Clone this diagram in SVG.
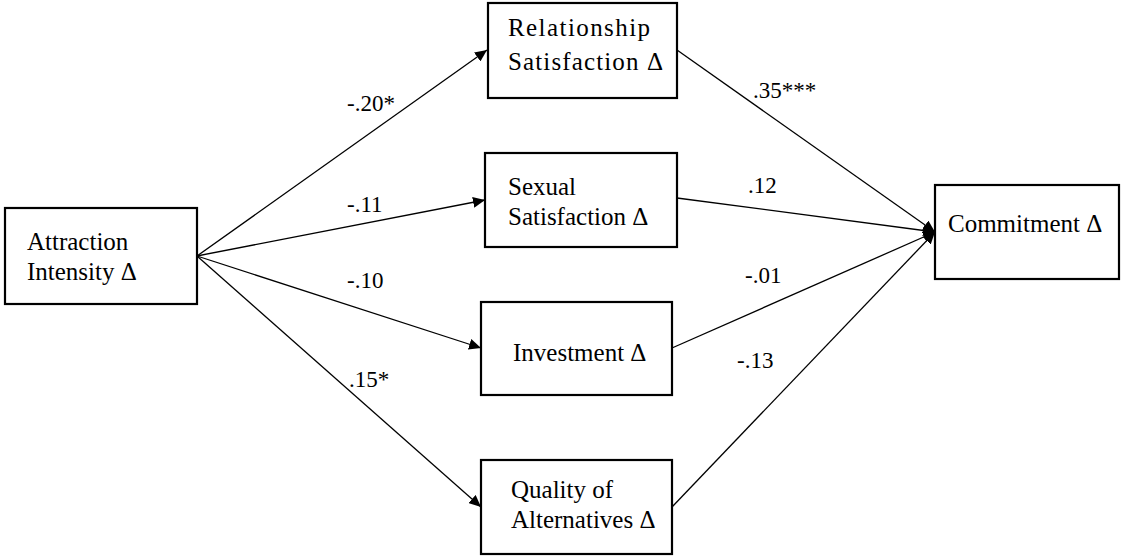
<svg xmlns="http://www.w3.org/2000/svg" width="1124" height="557" viewBox="0 0 1124 557">
  <defs>
    <marker id="arrow" markerUnits="userSpaceOnUse" markerWidth="13" markerHeight="11" refX="12" refY="5.5" orient="auto">
      <path d="M0,0 L12,5.5 L0,11 z" fill="#000"/>
    </marker>
    <style>
      .box { fill: #fff; stroke: #000; stroke-width: 2.2; }
      .lbl { font-family: "Liberation Serif", "Times New Roman", serif; font-size: 25px; fill: #000; }
      .coef { font-family: "Liberation Serif", "Times New Roman", serif; font-size: 23px; fill: #000; }
      .edge { stroke: #000; stroke-width: 1.3; fill: none; marker-end: url(#arrow); }
    </style>
  </defs>
  <rect width="1124" height="557" fill="#fff"/>

  <!-- path connectors -->
  <g id="connectors">
    <line class="edge" x1="197" y1="256" x2="487" y2="50"/>
    <line class="edge" x1="197" y1="256" x2="485" y2="200"/>
    <line class="edge" x1="197" y1="256" x2="481" y2="348"/>
    <line class="edge" x1="197" y1="256" x2="481" y2="507"/>
    <line class="edge" x1="677" y1="50" x2="935" y2="232"/>
    <line class="edge" x1="677" y1="198" x2="935" y2="232"/>
    <line class="edge" x1="672" y1="348" x2="935" y2="232"/>
    <line class="edge" x1="672" y1="507" x2="935" y2="232"/>
  </g>

  <!-- path coefficients -->
  <g id="coefficients">
    <text class="coef" x="347" y="111">-.20*</text>
    <text class="coef" x="347" y="212">-.11</text>
    <text class="coef" x="347" y="288">-.10</text>
    <text class="coef" x="349" y="387">.15*</text>
    <text class="coef" x="753" y="98">.35***</text>
    <text class="coef" x="748" y="193">.12</text>
    <text class="coef" x="745" y="283">-.01</text>
    <text class="coef" x="737" y="368">-.13</text>
  </g>

  <g id="attraction">
    <rect class="box" x="5" y="208" width="192" height="96"/>
    <text class="lbl" x="27" y="250">Attraction</text>
    <text class="lbl" x="27" y="280">Intensity Δ</text>
  </g>

  <g id="relationship">
    <rect class="box" x="488" y="3" width="189" height="95"/>
    <text class="lbl" x="508" y="36" textLength="142" lengthAdjust="spacing">Relationship</text>
    <text class="lbl" x="508" y="70" textLength="155" lengthAdjust="spacing">Satisfaction Δ</text>
  </g>

  <g id="sexual">
    <rect class="box" x="485" y="153" width="192" height="94"/>
    <text class="lbl" x="508" y="195">Sexual</text>
    <text class="lbl" x="508" y="225">Satisfaction Δ</text>
  </g>

  <g id="investment">
    <rect class="box" x="481" y="302" width="191" height="93"/>
    <text class="lbl" x="513" y="361">Investment Δ</text>
  </g>

  <g id="alternatives">
    <rect class="box" x="481" y="460" width="191" height="94"/>
    <text class="lbl" x="511" y="498">Quality of</text>
    <text class="lbl" x="511" y="528">Alternatives Δ</text>
  </g>

  <g id="commitment">
    <rect class="box" x="935" y="185" width="184" height="94"/>
    <text class="lbl" x="948" y="232">Commitment Δ</text>
  </g>
</svg>
